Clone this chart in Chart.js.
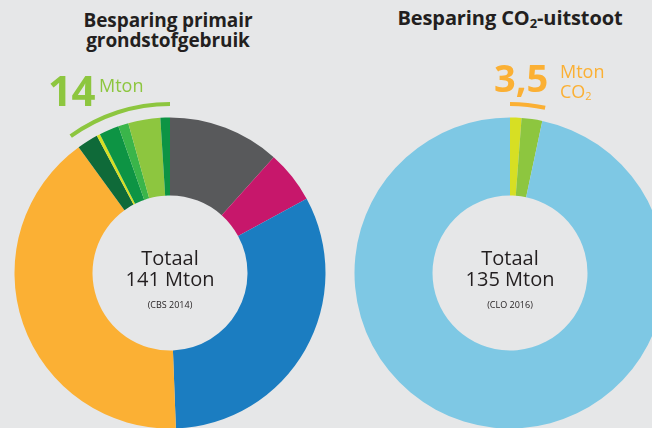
<!DOCTYPE html>
<html>
<head>
<meta charset="utf-8">
<script src="https://cdn.jsdelivr.net/npm/chart.js@4/dist/chart.umd.min.js"></script>
<style>
  html, body { margin: 0; padding: 0; }
  body { width: 652px; height: 428px; overflow: hidden; position: relative; background: #e6e7e8; font-family: 'Open Sans', sans-serif; color: #231f20; }
  canvas { position: absolute; }
  .t { position: absolute; white-space: nowrap; }
  .c { text-align: center; }
  .title { font-weight: 700; font-size: 19px; line-height: 20px; letter-spacing: -0.1px; }
  .tot { font-size: 20px; line-height: 20px; }
  .src { font-size: 9px; line-height: 10px; }
</style>
</head>
<body>
<canvas id="leftChart" width="342" height="342" style="left:-1px;top:102px"></canvas>
<canvas id="rightChart" width="342" height="342" style="left:339px;top:102px"></canvas>

<div class="t c title" style="left:0;width:336px;top:10px">Besparing primair<br>grondstofgebruik</div>
<div class="t c title" style="left:340px;width:340px;top:8px;font-size:20px">Besparing CO<sub style="font-size:13px;vertical-align:-3px">2</sub>-uitstoot</div>

<div class="t" style="left:48px;top:69px;font-size:42px;line-height:42px;font-weight:700;color:#8dc63f;letter-spacing:-0.5px">14</div>
<div class="t" style="left:99px;top:76px;font-size:18px;line-height:18px;color:#8dc63f">Mton</div>

<div class="t" style="left:494px;top:58px;font-size:38px;line-height:38px;font-weight:700;color:#fbb034;letter-spacing:0px">3,5</div>
<div class="t" style="left:560px;top:62px;font-size:18px;line-height:18px;color:#fbb034">Mton</div>
<div class="t" style="left:560px;top:82px;font-size:18px;line-height:18px;color:#fbb034">CO<sub style="font-size:11px;vertical-align:-2px">2</sub></div>

<div class="t c tot" style="left:70px;width:200px;top:248px">Totaal</div>
<div class="t c tot" style="left:70px;width:200px;top:269px">141 Mton</div>
<div class="t c src" style="left:70px;width:200px;top:300px">(CBS 2014)</div>

<div class="t c tot" style="left:410px;width:200px;top:248px">Totaal</div>
<div class="t c tot" style="left:410px;width:200px;top:269px">135 Mton</div>
<div class="t c src" style="left:410px;width:200px;top:300px">(CLO 2016)</div>

<script>
// primair grondstofgebruik, Mton (141 totaal), clockwise from the top
const leftLabels  = ['Segment 1', 'Segment 2', 'Segment 3', 'Segment 4', 'Besparing 1', 'Besparing 2', 'Besparing 3', 'Besparing 4', 'Besparing 5', 'Besparing 6'];
const leftValues  = [16.4, 7.7, 45.6, 57.3, 3.1, 0.5, 2.9, 1.5, 4.7, 1.4];
const leftColors  = ['#58595b', '#c7176b', '#1b7dc1', '#fbb034', '#0f6a39', '#d7df23', '#0d9444', '#3ab54a', '#8dc63f', '#0d9444'];
const leftSaved   = [false, false, false, false, true, true, true, true, true, true];

// CO2-uitstoot, Mton (135 totaal)
const rightLabels = ['Besparing 1', 'Besparing 2', 'Overig'];
const rightValues = [1.6, 2.9, 130.5];
const rightColors = ['#d7df23', '#8dc63f', '#7ec8e4'];
const rightSaved  = [true, true, false];

const NONE = 'rgba(0,0,0,0)';

function sum(arr) { return arr.reduce((a, b) => a + b, 0); }

function buildDonut(id, values, colors, saved, labels, arcColor) {
  const savedTotal = sum(values.filter((_, i) => saved[i]));
  const restTotal  = sum(values) - savedTotal;
  // arc ring goes where the saved slices are (at the end for left, at the start for right)
  const savedFirst = saved[0];
  const arcData   = savedFirst ? [savedTotal, restTotal] : [restTotal, savedTotal];
  const arcColors = savedFirst ? [arcColor, NONE] : [NONE, arcColor];

  return new Chart(document.getElementById(id), {
    type: 'doughnut',
    data: {
      labels,
      datasets: [
        { data: arcData, backgroundColor: arcColors, borderWidth: 0, weight: 4 },
        { data: [1], backgroundColor: [NONE], borderWidth: 0, weight: 11.5 },
        { data: values, backgroundColor: colors, borderWidth: 0, weight: 78 }
      ]
    },
    options: {
      responsive: false,
      animation: false,
      cutout: 77.5,
      layout: { padding: 0 },
      plugins: {
        legend: { display: false },
        tooltip: { enabled: false }
      }
    }
  });
}

buildDonut('leftChart', leftValues, leftColors, leftSaved, leftLabels, '#8dc63f');
buildDonut('rightChart', rightValues, rightColors, rightSaved, rightLabels, '#fbb034');
</script>
</body>
</html>
